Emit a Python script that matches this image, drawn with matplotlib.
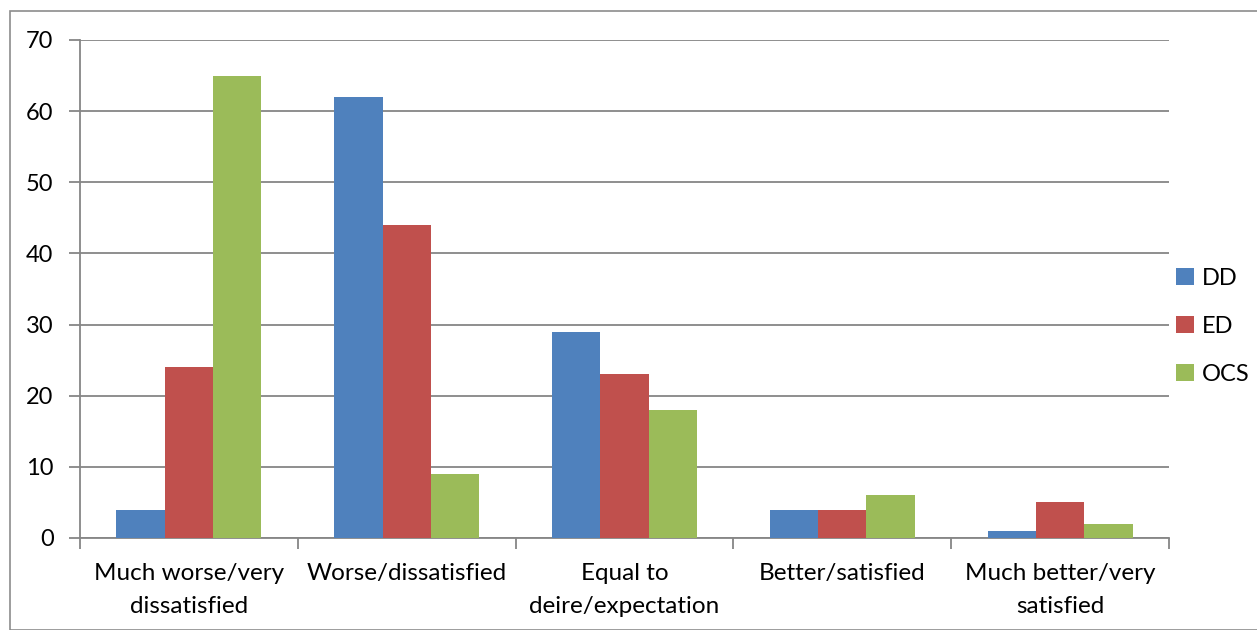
import matplotlib
matplotlib.use("Agg")
import matplotlib.pyplot as plt
import numpy as np
from matplotlib.patches import Rectangle

categories = ["Much worse/very\ndissatisfied", "Worse/dissatisfied",
              "Equal to\ndeire/expectation", "Better/satisfied",
              "Much better/very\nsatisfied"]
series_names = ["DD", "ED", "OCS"]
dd = [4, 62, 29, 4, 1]
ed = [24, 44, 23, 4, 5]
ocs = [65, 9, 18, 6, 2]
yticks = [0, 10, 20, 30, 40, 50, 60, 70]

colors = ["#4F81BD", "#C0504D", "#9BBB59"]
grid_c = "#868686"

plt.rcParams['font.family'] = ['Lato', 'DejaVu Sans']

W, H = 1257, 630
fig = plt.figure(figsize=(W / 100, H / 100), dpi=100)
fig.patches.append(Rectangle((10 / W, 0), 1.2, 1 - 11 / H, transform=fig.transFigure,
                             fill=False, edgecolor="#8c8c8c", linewidth=1.2))

ax = fig.add_axes([80 / W, 1 - 538 / H, (1169 - 80) / W, (538 - 40) / H])
x = np.arange(len(categories))
bw = 0.222
for i, (vals, name) in enumerate(zip([dd, ed, ocs], series_names)):
    ax.bar(x + (i - 1) * bw, vals, width=bw, color=colors[i], label=name, zorder=3)

ax.set_xlim(-0.5, len(categories) - 0.5)
ax.set_ylim(0, 70)
ax.set_yticks(yticks)
ax.set_yticklabels([str(t) for t in yticks], fontsize=17)
ax.yaxis.grid(True, color=grid_c, linewidth=1.3, zorder=0)
ax.set_axisbelow(True)
for s in ["top", "right"]:
    ax.spines[s].set_visible(False)
ax.spines["left"].set_color(grid_c)
ax.spines["bottom"].set_color(grid_c)
ax.spines["left"].set_linewidth(1.3)
ax.spines["bottom"].set_linewidth(1.3)
ax.tick_params(axis="y", length=8, color=grid_c, width=1.3, pad=11)

# x ticks at category boundaries, labels at centers
ax.set_xticks(np.arange(len(categories) + 1) - 0.5)
ax.set_xticklabels([])
ax.tick_params(axis="x", length=8, color=grid_c, width=1.3)
ax.set_xticks(x, minor=True)
ax.set_xticklabels(categories, minor=True, fontsize=17.5, linespacing=1.7)
ax.tick_params(axis="x", which="minor", length=0, pad=18)

leg = ax.legend(loc="center left", bbox_to_anchor=(1.0, 0.425), frameon=False,
                fontsize=17, handlelength=0.75, handleheight=0.75, handletextpad=0.35,
                labelspacing=1.15, borderaxespad=0.3, borderpad=0.0)

fig.savefig("out.png", dpi=100)
